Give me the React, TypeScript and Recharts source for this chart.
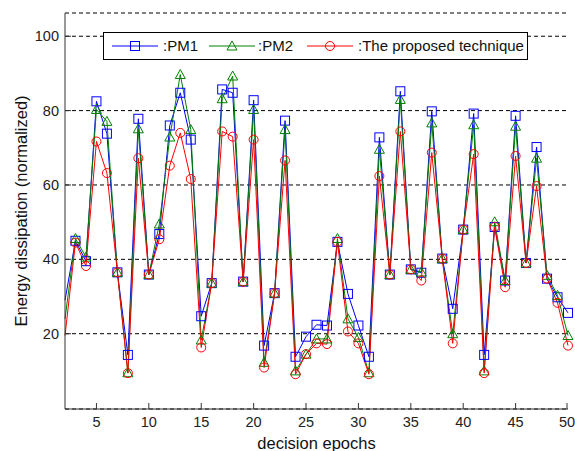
import React from "react";
import { LineChart, Line, XAxis, YAxis, CartesianGrid, Legend } from "recharts";

const epochs = [2, 3, 4, 5, 6, 7, 8, 9, 10, 11, 12, 13, 14, 15, 16, 17, 18, 19, 20, 21, 22, 23, 24, 25, 26, 27, 28, 29, 30, 31, 32, 33, 34, 35, 36, 37, 38, 39, 40, 41, 42, 43, 44, 45, 46, 47, 48, 49, 50];

const pm1 = [29, 45, 39.5, 82.5, 73.8, 36.5, 14.3, 77.8, 35.9, 46.8, 76, 84.8, 72.2, 24.7, 33.6, 85.7, 84.8, 34, 82.8, 16.8, 30.9, 77.3, 13.8, 19.2, 22.4, 22.2, 44.7, 30.7, 22.2, 13.8, 72.8, 35.9, 85.2, 37.3, 36.4, 79.8, 40.2, 26.7, 48, 79.2, 14.3, 48.7, 34.3, 78.6, 39, 70.2, 34.8, 29.8, 25.6];

const pm2 = [24, 45.6, 40.6, 80.3, 77.1, 36.5, 9.5, 75.1, 35.9, 49.5, 72.9, 89.7, 74.9, 18.3, 33.6, 83.2, 89.3, 34, 80.3, 12.3, 30.9, 74.9, 10, 14.5, 18.6, 18.6, 45.6, 24, 19, 9.5, 69.6, 35.9, 83, 37.3, 36.6, 76.7, 40.2, 20, 48, 76.2, 10, 50.1, 34.3, 75.8, 39, 67.2, 35.7, 30.3, 19.5];

const proposed = [19.5, 44.5, 38.2, 71.7, 63.2, 36.5, 9.4, 67.2, 35.9, 45.4, 65.2, 74, 61.6, 16.3, 33.6, 74.4, 73, 34, 72.2, 10.9, 30.9, 66.6, 9.1, 14.5, 17.4, 17.2, 44.7, 20.6, 17.4, 9.1, 62.4, 35.9, 74.4, 37.3, 34.3, 68.7, 40.2, 17.4, 48, 68.3, 9.4, 48.7, 32.5, 67.8, 39, 59.7, 34.8, 28.3, 16.8];

const xTicks = [5, 10, 15, 20, 25, 30, 35, 40, 45, 50];
const yTicks = [20, 40, 60, 80, 100];

const data = epochs.map((e, i) => ({ epoch: e, pm1: pm1[i], pm2: pm2[i], proposed: proposed[i] }));

const FONT = '"Liberation Sans", Arial, sans-serif';
const FRAME = "#333";
const BLUE = "#0000ff";
const GREEN = "#008000";
const RED = "#ff0000";

// matlab-ish hollow markers; the first point sits on the axis edge and shows no marker
function marker(kind: string, color: string, cx: number, cy: number, key?: any) {
  if (kind === "square") return <rect key={key} x={cx - 4.5} y={cy - 4.5} width={9} height={9} fill="none" stroke={color} />;
  if (kind === "triangle")
    return <polygon key={key} points={`${cx},${cy - 5} ${cx - 5},${cy + 4} ${cx + 5},${cy + 4}`} fill="none" stroke={color} />;
  return <circle key={key} cx={cx} cy={cy} r={4.5} fill="none" stroke={color} />;
}

const dotFor = (kind: string, color: string) => (p: any) => {
  if (p.index === 0 || p.cx == null) return <g key={p.index} />;
  return marker(kind, color, p.cx, p.cy, p.index);
};

const BottomTick = ({ x, y, payload }: any) => (
  <g>
    <line x1={x} y1={y} x2={x} y2={y - 6} stroke={FRAME} />
    <text x={x} y={y + 18} textAnchor="middle" fontSize={14.5} fill="#222" fontFamily={FONT}>
      {payload.value}
    </text>
  </g>
);

const TopTick = ({ x, y }: any) => <line x1={x} y1={y} x2={x} y2={y + 6} stroke={FRAME} />;

const LeftTick = ({ x, y, payload }: any) => (
  <g>
    <line x1={x} y1={y} x2={x + 6} y2={y} stroke={FRAME} />
    <text x={x - 6} y={y + 5} textAnchor="end" fontSize={14.5} fill="#222" fontFamily={FONT}>
      {payload.value}
    </text>
  </g>
);

const RightTick = ({ x, y }: any) => <line x1={x} y1={y} x2={x - 6} y2={y} stroke={FRAME} />;

const legendItems = [
  { label: ":PM1", color: BLUE, kind: "square", lineLeft: 7, textLeft: 59 },
  { label: ":PM2", color: GREEN, kind: "triangle", lineLeft: 104, textLeft: 154 },
  { label: ":The proposed technique", color: RED, kind: "circle", lineLeft: 202, textLeft: 254 }
];

const LegendBox = () => (
  <div
    style={{
      position: "relative",
      width: 425,
      height: 28,
      border: "1px solid #000",
      boxSizing: "border-box",
      background: "#fff",
      fontFamily: FONT,
      fontSize: 15,
      color: "#111"
    }}
  >
    {legendItems.map((it) => (
      <React.Fragment key={it.label}>
        <svg width={48} height={26} style={{ position: "absolute", left: it.lineLeft, top: 0 }}>
          <line x1={1} y1={13} x2={47} y2={13} stroke={it.color} />
          {marker(it.kind, it.color, 24, 13)}
        </svg>
        <span style={{ position: "absolute", left: it.textLeft, top: 4, lineHeight: "18px", whiteSpace: "nowrap" }}>
          {it.label}
        </span>
      </React.Fragment>
    ))}
  </div>
);

export default function App() {
  return (
    <div style={{ position: "absolute", left: 0, top: 0, width: 575, height: 451, background: "#fff" }}>
      <LineChart width={575} height={451} data={data} margin={{ top: 13, right: 7, bottom: 0, left: 5 }}>
        <CartesianGrid horizontal vertical={false} stroke="#000" strokeDasharray="4 3" />
        <XAxis
          dataKey="epoch"
          type="number"
          domain={[2, 50]}
          ticks={xTicks}
          height={42}
          tickSize={0}
          tickMargin={0}
          tickLine={false}
          tick={<BottomTick />}
          axisLine={{ stroke: FRAME }}
          label={{ value: "decision epochs", position: "insideBottom", offset: 2, fontSize: 16.5, fill: "#111", fontFamily: FONT }}
        />
        <XAxis
          xAxisId="top"
          orientation="top"
          dataKey="epoch"
          type="number"
          domain={[2, 50]}
          ticks={xTicks}
          height={0}
          tickSize={0}
          tickMargin={0}
          tickLine={false}
          tick={<TopTick />}
          axisLine={{ stroke: FRAME }}
        />
        <YAxis
          type="number"
          domain={[-0.25, 106.25]}
          ticks={yTicks}
          width={60}
          tickSize={0}
          tickMargin={0}
          tickLine={false}
          tick={<LeftTick />}
          axisLine={{ stroke: FRAME }}
          label={{
            value: "Energy dissipation (normalized)",
            angle: -90,
            position: "center",
            dx: -14,
            fontSize: 16.5,
            fill: "#111",
            fontFamily: FONT
          }}
        />
        <YAxis
          yAxisId="right"
          orientation="right"
          type="number"
          domain={[-0.25, 106.25]}
          ticks={yTicks}
          width={0}
          tickSize={0}
          tickMargin={0}
          tickLine={false}
          tick={<RightTick />}
          axisLine={{ stroke: FRAME }}
        />
        <Legend
          layout="horizontal"
          verticalAlign="middle"
          align="center"
          content={<LegendBox />}
          wrapperStyle={{ top: 32, left: 103, width: 425, height: 28 }}
        />
        <Line dataKey="pm1" stroke={BLUE} strokeWidth={1} dot={dotFor("square", BLUE)} isAnimationActive={false} />
        <Line dataKey="pm2" stroke={GREEN} strokeWidth={1} dot={dotFor("triangle", GREEN)} isAnimationActive={false} />
        <Line dataKey="proposed" stroke={RED} strokeWidth={1} dot={dotFor("circle", RED)} isAnimationActive={false} />
      </LineChart>
    </div>
  );
}
